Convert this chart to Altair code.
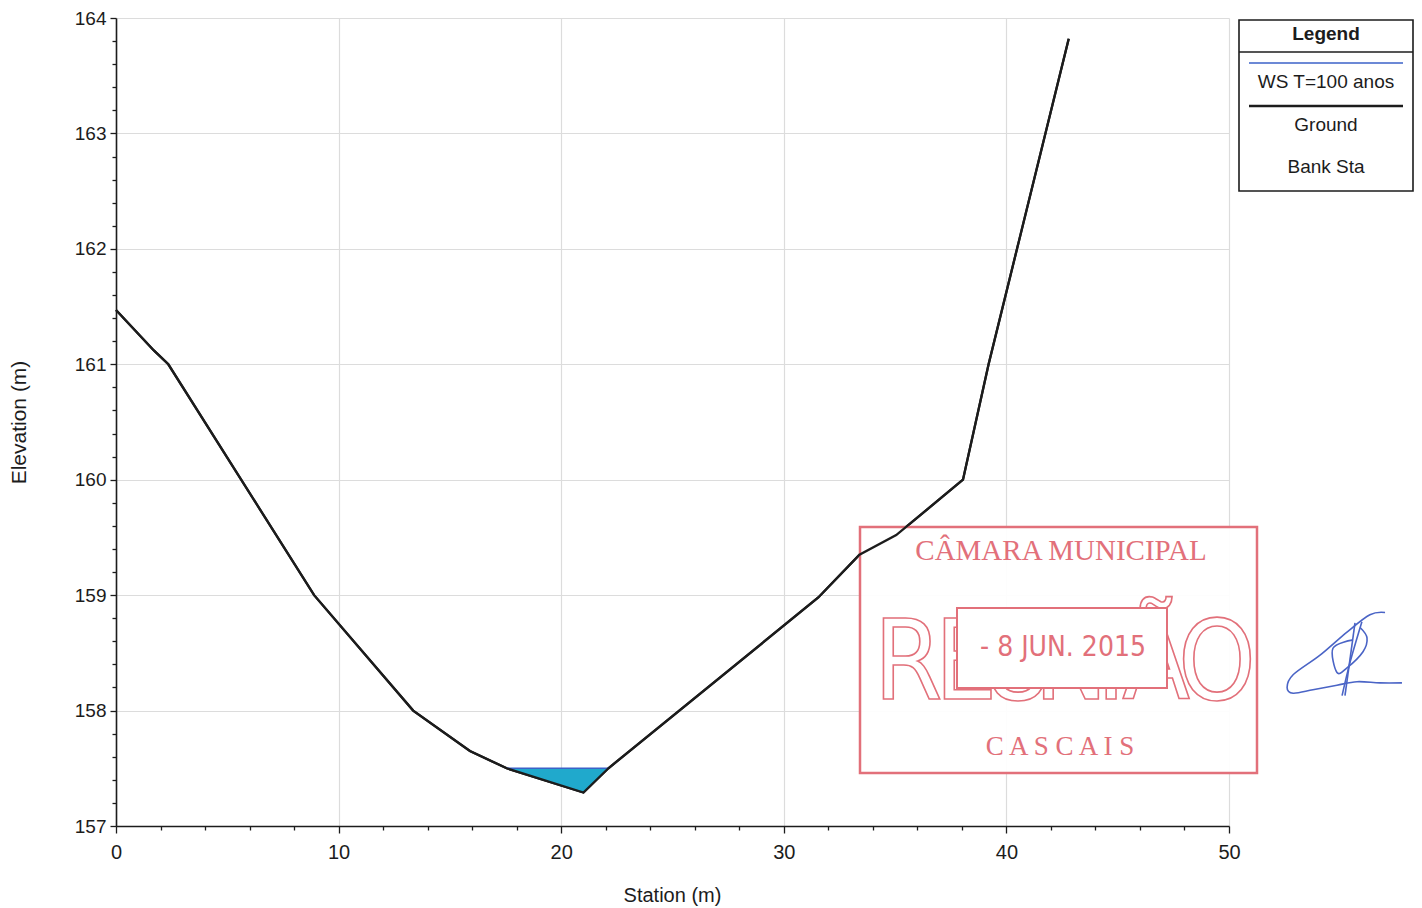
import altair as alt
import pandas as pd

# ---------------- data ----------------
station = [0.0, 1.7, 2.35, 8.9, 13.35, 15.9, 17.55, 21.0, 22.12, 31.55, 33.4, 35.05, 38.05, 39.2, 42.8]
elevation = [161.47, 161.12, 161.0, 159.0, 158.0, 157.65, 157.5, 157.29, 157.5, 158.98, 159.35, 159.52, 160.0, 161.0, 163.82]

ws_station = [17.55, 22.12]
ws_elevation = [157.5, 157.5]

water_station = [17.55, 21.0, 22.12]
water_ground = [157.5, 157.29, 157.5]
water_surface = [157.5, 157.5, 157.5]

legend_labels = ["WS T=100 anos", "Ground", "Bank Sta"]

stamp_lines = ["CÂMARA MUNICIPAL", "REUNIÃO", "- 8  JUN. 2015", "C A S C A I S"]

# signature scribble (approximate, in chart units)
sig_stroke = [1] * 12 + [2] * 3 + [3] * 2 + [4] * 7
sig_x = [57.01, 56.33, 55.30, 54.09, 52.88, 52.61, 52.88, 53.77, 54.85, 55.75, 56.78, 57.77,
         55.97, 55.44, 55.08,
         55.66, 55.21,
         55.53, 54.67, 54.85, 55.30, 56.02, 56.20, 55.89]
sig_y = [158.85, 158.83, 158.68, 158.48, 158.31, 158.20, 158.15, 158.18, 158.22, 158.25, 158.24, 158.24,
         158.77, 158.42, 158.13,
         158.76, 158.13,
         158.61, 158.54, 158.33, 158.37, 158.51, 158.63, 158.72]

y_ticks = [round(157 + 0.2 * i, 1) for i in range(36)]
x_ticks = list(range(0, 52, 2))

FONT = "Liberation Sans, Arial, Helvetica, sans-serif"
SERIF = "Liberation Serif, Times New Roman, serif"
NARROW = "Liberation Sans Narrow, Arial Narrow, DejaVu Sans Condensed, Liberation Sans, sans-serif"
STAMP = "#e2707a"
INK = "#1c1c1c"

xs = alt.Scale(domain=[0, 50], nice=False, zero=False)
ys = alt.Scale(domain=[157, 164], nice=False, zero=False)

x_axis = alt.Axis(
    values=x_ticks, tickCount=200, format="d",
    labelExpr="datum.value % 10 === 0 ? datum.label : ''",
    tickSize={"condition": {"test": "datum.value % 10 === 0", "value": 7}, "value": 4},
    gridOpacity={"condition": {"test": "datum.value % 10 === 0", "value": 1}, "value": 0},
    title="Station (m)", titleX=556, titleY=69, titleBaseline="middle",
    titleFontSize=20, titleFontWeight="normal", titleFont=FONT, titleColor=INK,
    labelFontSize=20, labelFont=FONT, labelColor=INK, labelPadding=9, labelFlush=False,
    labelOverlap=False,
)
y_axis = alt.Axis(
    values=y_ticks, tickCount=200, format=".0f",
    labelExpr="abs(datum.value - round(datum.value)) < 0.001 ? datum.label : ''",
    tickSize={"condition": {"test": "abs(datum.value - round(datum.value)) < 0.001", "value": 6}, "value": 4},
    gridOpacity={"condition": {"test": "abs(datum.value - round(datum.value)) < 0.001", "value": 1}, "value": 0},
    title="Elevation (m)", titleX=-97, titleY=404, titleBaseline="middle", titleAngle=270,
    titleFontSize=21, titleFontWeight="normal", titleFont=FONT, titleColor=INK,
    labelFontSize=19, labelFont=FONT, labelColor=INK, labelPadding=4, labelFlush=False,
    labelOverlap=False,
)


def deco():
    return alt.Chart(pd.DataFrame({"k": [0]}))


ground_df = pd.DataFrame({"Station": station, "Elevation": elevation})
ws_df = pd.DataFrame({"Station": ws_station, "Elevation": ws_elevation})
water_df = pd.DataFrame({"Station": water_station, "Elevation": water_ground, "WS": water_surface})
sig_df = pd.DataFrame({"s": sig_stroke, "o": list(range(len(sig_x))), "Station": sig_x, "Elevation": sig_y})

X = alt.X("Station:Q", scale=xs)
Y = alt.Y("Elevation:Q", scale=ys)

ground_axes = alt.Chart(ground_df).mark_line(color=INK, strokeWidth=2.3).encode(
    x=alt.X("Station:Q", scale=xs, axis=x_axis),
    y=alt.Y("Elevation:Q", scale=ys, axis=y_axis),
)
ground = alt.Chart(ground_df).mark_line(color=INK, strokeWidth=2.3).encode(x=X, y=Y)

# stamp background (covers the grid, as on the scanned page)
stamp_box = deco().mark_rect(fill="white", fillOpacity=0.92, stroke=STAMP, strokeWidth=2.5).encode(
    x=alt.value(744), x2=alt.value(1141), y=alt.value(509), y2=alt.value(755)
)

water = alt.Chart(water_df).mark_area(color="#20a9cc", opacity=1).encode(x=X, y=Y, y2="WS:Q")
ws_line = alt.Chart(ws_df).mark_line(color="#3b62c8", strokeWidth=1.5).encode(x=X, y=Y)

# ---------- stamp texts ----------
stamp_title = deco().mark_text(text=stamp_lines[0], font=SERIF, fontSize=29, color=STAMP,
                               align="center", baseline="middle").encode(
    x=alt.value(945), y=alt.value(533))
big_letter_x = [792, 850, 902, 955, 995, 1040, 1101]
big_layers = []
for ch, px in zip(stamp_lines[1], big_letter_x):
    big_layers.append(
        deco().mark_text(text=ch, font=NARROW, fontSize=110, fill="white", fillOpacity=0,
                         stroke=STAMP, strokeWidth=1.6, align="center", baseline="middle").encode(
            x=alt.value(px), y=alt.value(648))
    )
date_box = deco().mark_rect(fill="white", stroke=STAMP, strokeWidth=2).encode(
    x=alt.value(841), x2=alt.value(1051), y=alt.value(590), y2=alt.value(670))
date_text = deco().mark_text(text=stamp_lines[2], font=NARROW, fontSize=28, color=STAMP,
                             align="center", baseline="middle").encode(
    x=alt.value(947), y=alt.value(630))
cascais = deco().mark_text(text=stamp_lines[3], font=SERIF, fontSize=27, color=STAMP,
                           align="center", baseline="middle").encode(
    x=alt.value(944), y=alt.value(729))

signature = alt.Chart(sig_df).mark_line(color="#4a64c6", strokeWidth=1.6, interpolate="cardinal").encode(
    x=X, y=Y, detail="s:N", order="o:Q",
)

# ---------- legend box ----------
leg_box = deco().mark_rect(fill="white", stroke=INK, strokeWidth=1.6).encode(
    x=alt.value(1123), x2=alt.value(1297), y=alt.value(2), y2=alt.value(173))
leg_sep = deco().mark_rule(color=INK, strokeWidth=1.4).encode(
    x=alt.value(1123), x2=alt.value(1297), y=alt.value(34))
leg_head = deco().mark_text(text="Legend", font=FONT, fontSize=19, fontWeight="bold", color=INK,
                            align="center", baseline="middle").encode(x=alt.value(1210), y=alt.value(16))
leg_ws_line = deco().mark_rule(color="#3b62c8", strokeWidth=1.5).encode(
    x=alt.value(1133), x2=alt.value(1287), y=alt.value(45))
leg_gr_line = deco().mark_rule(color=INK, strokeWidth=2.6).encode(
    x=alt.value(1133), x2=alt.value(1287), y=alt.value(88))
leg_texts = []
for lab, py in zip(legend_labels, [64, 107, 149]):
    leg_texts.append(
        deco().mark_text(text=lab, font=FONT, fontSize=19, color=INK, align="center",
                         baseline="middle").encode(x=alt.value(1210), y=alt.value(py))
    )

chart = alt.layer(
    ground_axes, stamp_box, water, ws_line, ground, stamp_title, *big_layers, date_box, date_text, cascais,
    signature, leg_box, leg_sep, leg_head, leg_ws_line, leg_gr_line, *leg_texts,
).properties(
    width=1113, height=808,
    autosize=alt.AutoSizeParams(type="none"),
    padding={"left": 108, "top": 10, "right": 185, "bottom": 80},
    background="white",
).configure_view(stroke=None).configure_axis(
    domainColor=INK, domainWidth=1.6, tickColor=INK, tickWidth=1.3, gridColor="#dcdcdc", gridWidth=1.2,
)

chart.save("out.html", embed_options={"renderer": "svg", "actions": False})
